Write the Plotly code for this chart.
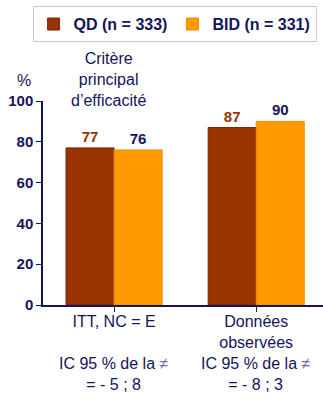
import plotly.graph_objects as go

categories = ["ITT, NC = E", "Données<br>observées"]
qd_values = [77, 87]
bid_values = [76, 90]
series_names = ["QD (n = 333)", "BID (n = 331)"]
ci_labels = ["IC 95 % de la <span style='color:#7070a0'>≠</span><br>= - 5 ; 8",
             "IC 95 % de la <span style='color:#7070a0'>≠</span><br>= - 8 ; 3"]
y_ticks = [0, 20, 40, 60, 80, 100]

NAVY = "#14145a"
QD_COLOR = "#993300"
BID_COLOR = "#FF9900"
FONT = "Liberation Sans, Arial, sans-serif"

fig = go.Figure()
fig.add_trace(go.Bar(
    x=[0, 1], y=qd_values, name=f"<b>{series_names[0]}</b>",
    marker=dict(color=QD_COLOR, line=dict(color="#7a2600", width=1)),
    text=[f"<b>{v}</b>" for v in qd_values], textposition="outside",
    textfont=dict(color=QD_COLOR, size=15, family=FONT), cliponaxis=False,
))
fig.add_trace(go.Bar(
    x=[0, 1], y=bid_values, name=f"<b>{series_names[1]}</b>",
    marker=dict(color=BID_COLOR, line=dict(color="#f08a00", width=1)),
    text=[f"<b>{v}</b>" for v in bid_values], textposition="outside",
    textfont=dict(color=NAVY, size=15, family=FONT), cliponaxis=False,
))

fig.update_layout(
    width=323, height=400,
    margin=dict(l=43, r=0, t=101, b=95),
    paper_bgcolor="white", plot_bgcolor="white",
    barmode="group", bargap=0.324, bargroupgap=0,
    font=dict(family=FONT, color=NAVY),
    showlegend=True,
    legend=dict(
        orientation="h", x=0.47, xanchor="center", y=1.465, yanchor="top",
        bordercolor="#c8c8d8", borderwidth=1, bgcolor="white",
        font=dict(size=16, color=NAVY, family=FONT),
        itemwidth=30, tracegroupgap=0,
    ),
)

fig.update_xaxes(
    range=[-0.5, 1.47],
    tickmode="array", tickvals=[0, 1], ticktext=categories,
    tickson="boundaries", ticks="outside", ticklen=5, tickcolor=NAVY,
    ticklabelstandoff=-4,
    showline=True, linecolor=NAVY, linewidth=1.5,
    tickfont=dict(size=16, color=NAVY, family=FONT),
    showgrid=False, zeroline=False, fixedrange=True,
)
fig.update_yaxes(
    range=[0, 100], tickmode="array", tickvals=y_ticks,
    ticktext=[f"<b>{v}</b>" for v in y_ticks],
    ticks="outside", ticklen=5, tickcolor=NAVY,
    showline=True, linecolor=NAVY, linewidth=1.5,
    tickfont=dict(size=15, color=NAVY, family=FONT),
    showgrid=False, zeroline=False,
)

annotations = [
    dict(x=-0.068, y=1.05, xref="paper", yref="paper", text="%", showarrow=False,
         font=dict(size=16, color=NAVY, family=FONT), xanchor="center", yanchor="bottom"),
    dict(x=-0.04, y=95, xref="x", yref="y", text="Critère<br>principal<br>d’efficacité",
         showarrow=False, font=dict(size=16, color=NAVY, family=FONT),
         xanchor="center", yanchor="bottom"),
]
for i, lab in enumerate(ci_labels):
    annotations.append(dict(
        x=i, y=-0.235, xref="x", yref="paper", text=lab, showarrow=False,
        font=dict(size=16, color=NAVY, family=FONT), xanchor="center", yanchor="top",
    ))
fig.update_layout(annotations=annotations)

fig.write_html("out.html")
